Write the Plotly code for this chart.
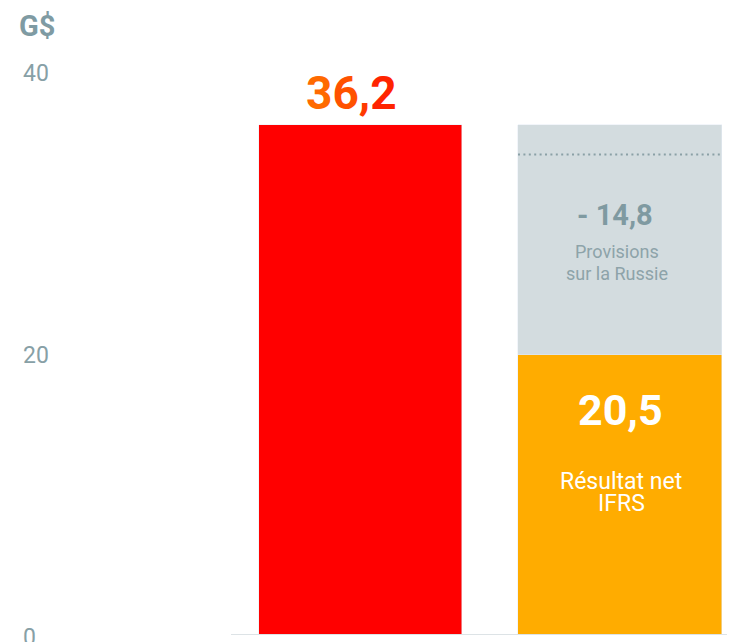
import plotly.graph_objects as go

# Data
categories = ["Résultat ajusté", "Résultat IFRS"]
adjusted_value = 36.2          # red bar
ifrs_value = 19.9              # orange bar height as drawn
provision_segment = 16.3       # grey segment as drawn (stacked on orange)
dotted_level = 34.1            # dotted reference line inside grey segment
label_adjusted = "36,2"
label_provision = "- 14,8"
label_ifrs = "20,5"
provision_lines = ["Provisions", "sur la Russie"]
ifrs_lines = ["Résultat net", "IFRS"]
tick_values = [0, 20, 40]
tick_labels = ["0", "20", "40"]
unit_label = "G$"

RED = "#ff0000"
GREY_BAR = "#d3dcdf"
ORANGE = "#ffac00"
AXIS_TXT = "#87a0a6"
FONT = "Roboto"

fig = go.Figure()
fig.add_trace(go.Bar(x=[categories[0]], y=[adjusted_value], marker_color=RED,
                     width=0.782, hoverinfo="skip"))
fig.add_trace(go.Bar(x=[categories[1]], y=[ifrs_value], marker_color=ORANGE,
                     width=0.786, hoverinfo="skip"))
fig.add_trace(go.Bar(x=[categories[1]], y=[provision_segment], marker_color=GREY_BAR,
                     width=0.786, hoverinfo="skip"))

top_grey = ifrs_value + provision_segment

annotations = []
grad_cols = ["#ff6a00", "#ff5200", "#ff3a00", "#ff2400"]
txt = "".join(f"<span style='color:{c}'>{ch}</span>" for ch, c in zip(label_adjusted, grad_cols))
annotations.append(dict(x=categories[0], y=adjusted_value, text=f"<b>{txt}</b>", showarrow=False,
                        yanchor="middle", xanchor="center", yshift=32, xshift=-9,
                        font=dict(family=FONT, size=46, color="#ff5000")))
annotations.append(dict(x=categories[1], y=top_grey, text=f"<b>{label_provision}</b>", showarrow=False,
                        yanchor="middle", yshift=-90, xshift=-5,
                        font=dict(family=FONT, size=29, color="#7f9aa1")))
for i, line in enumerate(provision_lines):
    annotations.append(dict(x=categories[1], y=top_grey, text=line, showarrow=False,
                            yanchor="middle", yshift=-(127 + 22 * i), xshift=-3,
                            font=dict(family=FONT, size=18, color="#8da3a9")))
annotations.append(dict(x=categories[1], y=ifrs_value, text=f"<b>{label_ifrs}</b>", showarrow=False,
                        yanchor="middle", yshift=-55, xshift=0,
                        font=dict(family=FONT, size=43, color="white")))
for i, line in enumerate(ifrs_lines):
    annotations.append(dict(x=categories[1], y=ifrs_value, text=line, showarrow=False,
                            yanchor="middle", yshift=-(127 + 22 * i), xshift=1,
                            font=dict(family=FONT, size=23, color="white")))
# tick labels
for v, t in zip(tick_values, tick_labels):
    annotations.append(dict(xref="paper", x=(13 - 223) / 512, y=v, text=t, showarrow=False,
                            xanchor="left", yanchor="middle", yshift=-2,
                            font=dict(family=FONT, size=23, color=AXIS_TXT)))
annotations.append(dict(xref="paper", yref="paper", x=(10 - 223) / 512, y=1, text=f"<b>{unit_label}</b>",
                        showarrow=False, xanchor="left", yanchor="top", yshift=0, borderpad=0,
                        font=dict(family=FONT, size=29, color="#7f9ba3")))

shapes = [
    dict(type="line", xref="paper", x0=0, x1=1, yref="y", y0=0, y1=0,
         line=dict(color="#dde3e6", width=2)),
    dict(type="line", xref="x", x0=1 - 0.393, x1=1 + 0.393, yref="y", y0=dotted_level, y1=dotted_level,
         line=dict(color="#8aa0a6", width=2, dash="2px,3.4px")),
]

fig.update_layout(
    width=735, height=642,
    margin=dict(l=223, r=0, t=0, b=15),
    barmode="stack", showlegend=False,
    plot_bgcolor="white", paper_bgcolor="white",
    xaxis=dict(range=[-0.499, 1.474], showticklabels=False, showgrid=False, zeroline=False,
               showline=False, fixedrange=True),
    yaxis=dict(range=[0, 44.5], showticklabels=False, showgrid=False, zeroline=False,
               showline=False, fixedrange=True),
    annotations=annotations, shapes=shapes, bargap=0,
)

fig.write_html("out.html")
